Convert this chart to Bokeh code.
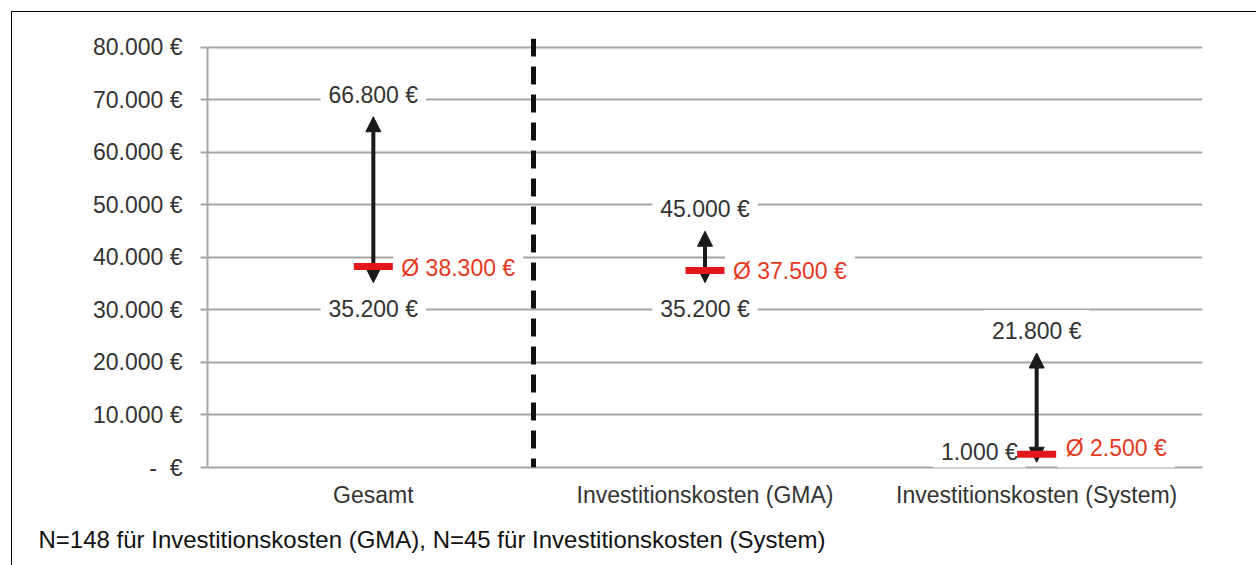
from bokeh.plotting import figure
from bokeh.models import (FactorRange, Range1d, ColumnDataSource, Arrow, NormalHead,
                          Label, Span, FixedTicker, Title)
from bokeh.layouts import column
from bokeh.embed import file_html
from bokeh.resources import INLINE

# Investment cost ranges (min / max) and averages per category
categories = ["Gesamt", "Investitionskosten (GMA)", "Investitionskosten (System)"]
minimum = [35200, 35200, 1000]
maximum = [66800, 45000, 21800]
mean = [38300, 37500, 2500]

tick_values = [0, 10000, 20000, 30000, 40000, 50000, 60000, 70000, 80000]
tick_labels = ["-\u00a0\u00a0€", "10.000 €", "20.000 €", "30.000 €", "40.000 €",
               "50.000 €", "60.000 €", "70.000 €", "80.000 €"]

footnote = "N=148 für Investitionskosten (GMA), N=45 für Investitionskosten (System)"

FONT = "Liberation Sans"
FS = "23px"
TEXT = "#333333"
RED_BAR = "#e2171b"
RED_TXT = "#e5391f"
GRID = "#a6a6a6"


def euro(v):
    return f"{v:,}".replace(",", ".") + " €"


p = figure(width=1244, height=553,
           x_range=FactorRange(*categories), y_range=Range1d(0, 81700),
           output_backend="svg", toolbar_location=None,
           min_border_left=195, min_border_right=54,
           min_border_top=26, min_border_bottom=98)
p.outline_line_color = None
p.background_fill_color = "white"
p.border_fill_color = "white"

# axes
p.yaxis.ticker = FixedTicker(ticks=tick_values)
p.yaxis.major_label_overrides = {v: t for v, t in zip(tick_values, tick_labels)}
p.yaxis.bounds = (0, 80000)
p.yaxis.axis_line_color = GRID
p.yaxis.axis_line_width = 2
p.yaxis.major_tick_line_color = GRID
p.yaxis.major_tick_line_width = 2
p.yaxis.major_tick_out = 7
p.yaxis.major_tick_in = 0
p.yaxis.minor_tick_line_color = None
p.yaxis.major_label_standoff = 18
p.yaxis.major_label_text_font = FONT
p.yaxis.major_label_text_font_size = FS
p.yaxis.major_label_text_color = TEXT

p.xaxis.axis_line_color = GRID
p.xaxis.axis_line_width = 2
p.xaxis.major_tick_line_color = None
p.xaxis.major_tick_out = 0
p.xaxis.major_tick_in = 0
p.xaxis.major_label_standoff = 14
p.xaxis.major_label_text_font = FONT
p.xaxis.major_label_text_font_size = FS
p.xaxis.major_label_text_color = TEXT

p.xgrid.grid_line_color = None
p.ygrid.ticker = FixedTicker(ticks=tick_values)
p.ygrid.grid_line_color = GRID
p.ygrid.grid_line_width = 2

# separator between the total and the breakdown
p.add_layout(Span(location=0.983, dimension="height", line_color="#111111",
                  line_width=5, line_dash="18 10"))

# category centres in the factor range's synthetic coordinates
centres = [i + 0.5 for i in range(len(categories))]

# min-max arrows
src = ColumnDataSource(dict(cat=categories, xc=centres, lo=minimum, hi=maximum, avg=mean))
head = dict(size=15, fill_color="#1a1a1a", line_color="#1a1a1a", line_width=1)
p.add_layout(Arrow(start=NormalHead(**head), end=NormalHead(**head),
                   x_start="xc", y_start="lo", x_end="xc", y_end="hi",
                   line_width=4, line_color="#1a1a1a", source=src))

# average markers
p.rect(x="cat", y="avg", width=39, height=7, width_units="screen",
       height_units="screen", fill_color=RED_BAR, line_color=None,
       source=src, level="overlay")

# value labels
max_dy = [22, 22, 22]
min_dx = [0, 0, -11]
min_dy = [-26, -26, 10]
min_align = ["center", "center", "right"]
avg_dx = [20, 20, 21]
avg_dy = [-2, 0, 6]


def add_label(x, y, text, color, align="center", dx=0, dy=0):
    p.add_layout(Label(x=x, y=y, text=text, x_offset=dx, y_offset=dy,
                       text_align=align, text_baseline="middle",
                       text_font=FONT, text_font_size=FS, text_color=color,
                       background_fill_color="white", padding=8))


for i, xc in enumerate(centres):
    add_label(xc, maximum[i], euro(maximum[i]), TEXT, dy=max_dy[i])
    add_label(xc, minimum[i], euro(minimum[i]), TEXT, align=min_align[i],
              dx=min_dx[i], dy=min_dy[i])
    add_label(xc, mean[i], "Ø " + euro(mean[i]), RED_TXT, align="left",
              dx=avg_dx[i], dy=avg_dy[i])

# sample-size note below the category axis
p.add_layout(Title(text=footnote, align="left", offset=-169, standoff=26,
                   text_font=FONT, text_font_size="24px", text_font_style="normal",
                   text_color="#111111"), "below")

layout = column(p, margin=(11, 0, 0, 11),
                styles={"border-left": "1px solid #000", "border-top": "1px solid #000"})

open("out.html", "w").write(file_html(layout, INLINE))
